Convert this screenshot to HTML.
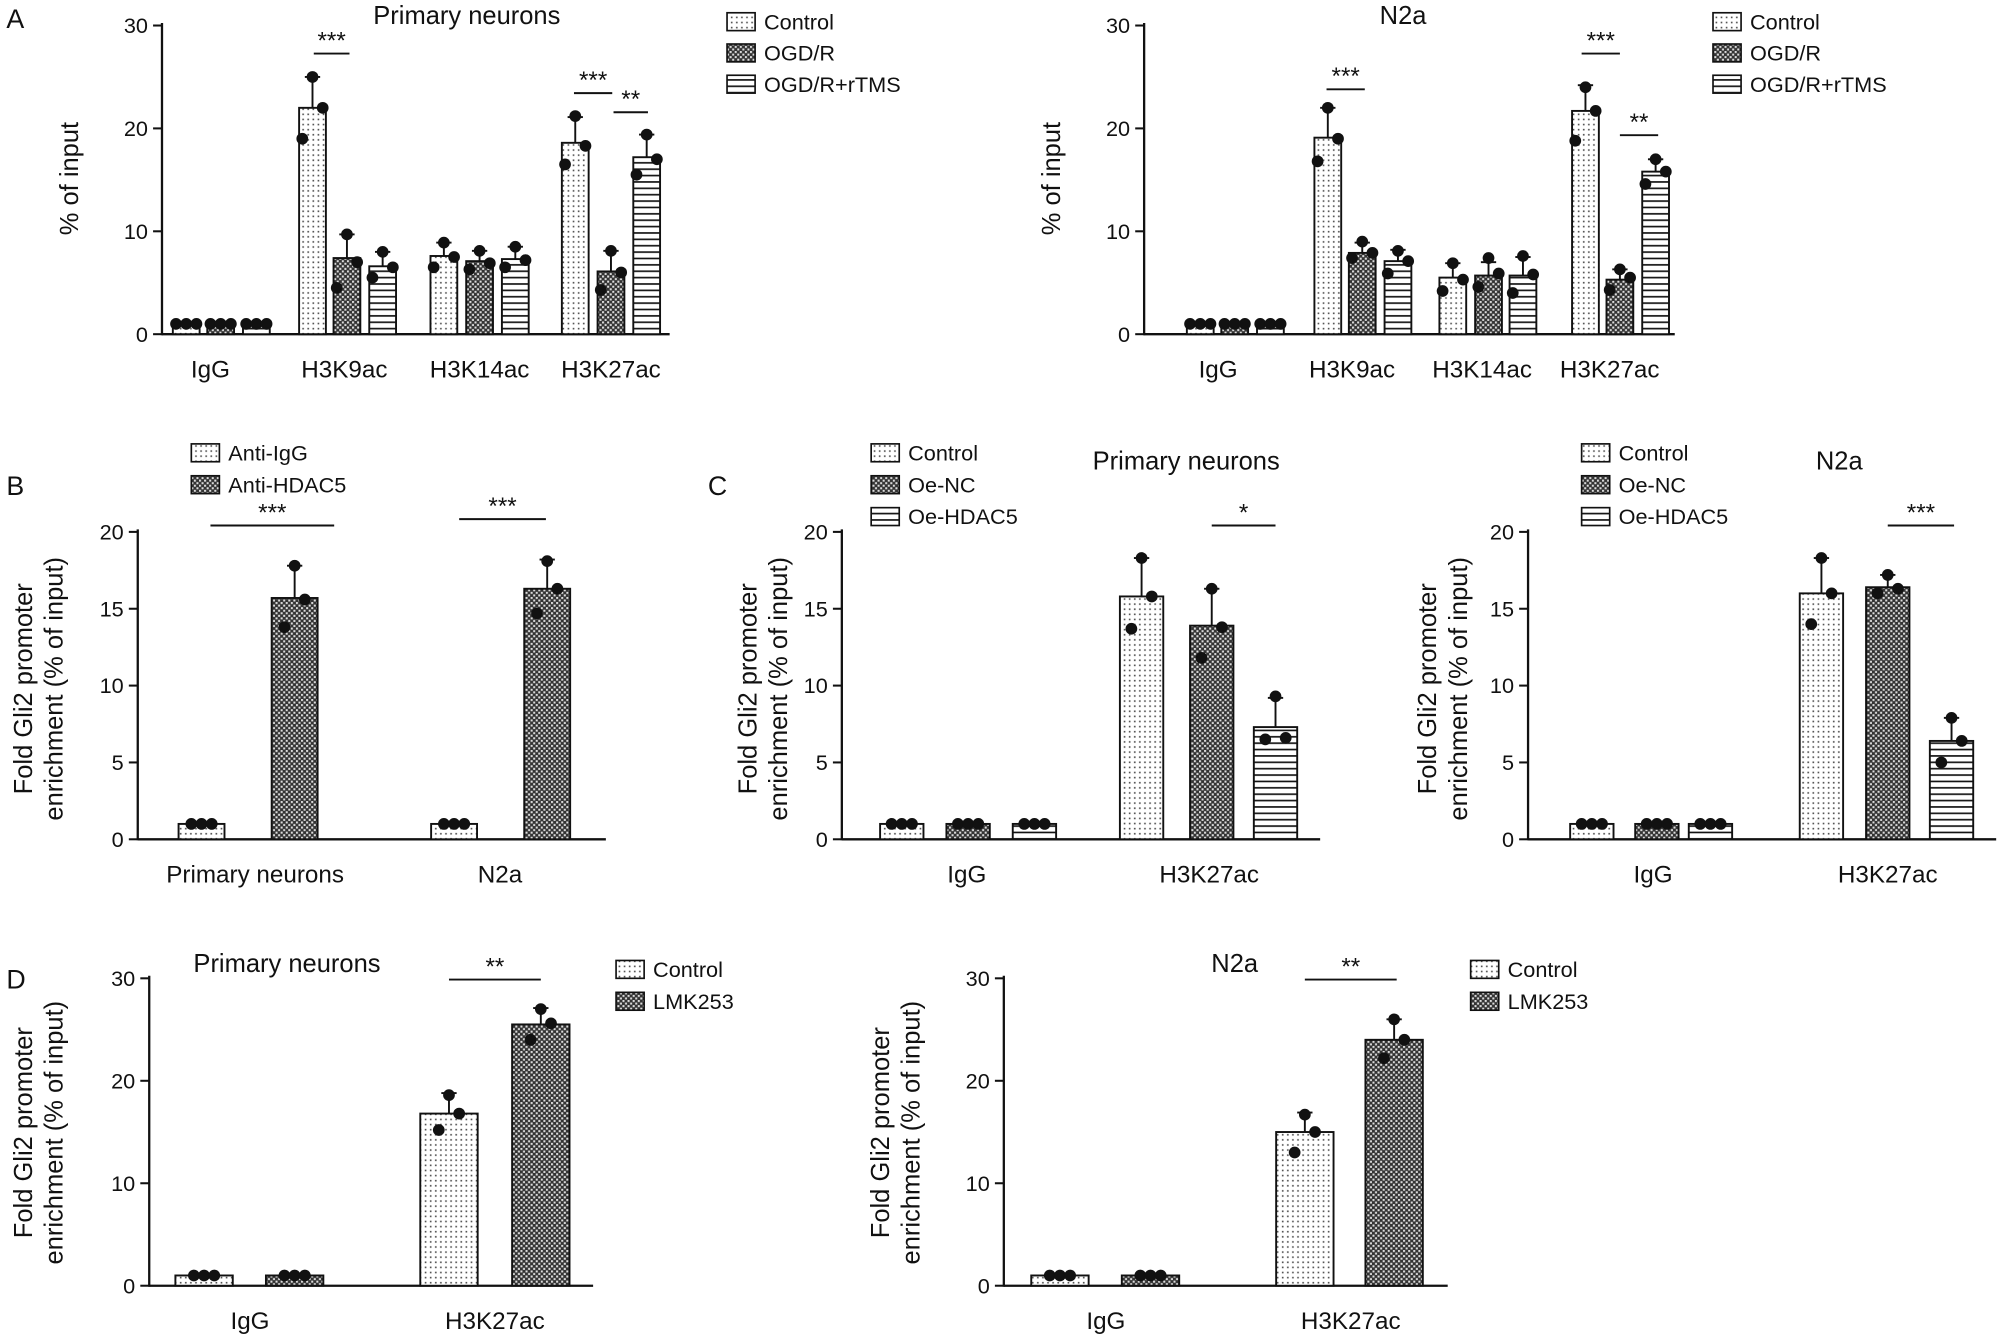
<!DOCTYPE html>
<html><head><meta charset="utf-8">
<style>
html,body{margin:0;padding:0;background:#fff;}
svg{display:block;font-family:"Liberation Sans",Arial,sans-serif;}
</style></head>
<body>
<svg id="s" width="2000" height="1337" viewBox="0 0 1568 1048.2" xmlns="http://www.w3.org/2000/svg">
<defs>
<pattern id="pd" width="4" height="4" patternUnits="userSpaceOnUse"><rect width="4" height="4" fill="#fff"/><rect x="1" y="1" width="1.3" height="1.3" fill="#555"/></pattern>
<pattern id="px" width="4" height="4" patternUnits="userSpaceOnUse"><rect width="4" height="4" fill="#333"/><rect x="0" y="0" width="1.6" height="1.6" fill="#ddd"/><rect x="2" y="2" width="1.6" height="1.6" fill="#ddd"/></pattern>
<pattern id="ph" width="6" height="5" patternUnits="userSpaceOnUse"><rect width="6" height="5" fill="#fff"/><rect y="2" width="6" height="1.3" fill="#111"/></pattern>
</defs>
<g id="g" stroke-linecap="butt"></g>
</svg>
<script>
const g=document.getElementById('g');let h='';
const F={c:'url(#pd)',o:'url(#px)',r:'url(#ph)'};
function t(x,y,s,sz,anc,rot){h+=`<text x="${x}" y="${y}" font-size="${sz||17}" text-anchor="${anc||'middle'}" fill="#111"${rot?` transform="rotate(-90 ${x} ${y})"`:''}>${s}</text>`;}
function L(x1,y1,x2,y2,w){h+=`<line x1="${x1}" y1="${y1}" x2="${x2}" y2="${y2}" stroke="#111" stroke-width="${w||1.6}"/>`;}
function panel(o){
 const sc=(o.y0-o.ytop)/o.ymax;
 const Y=v=>o.y0-v*sc;
 L(o.ax,o.ytop-2,o.ax,o.y0+0.8,1.8);L(o.ax,o.y0,o.xend,o.y0,1.8);
 for(const tk of o.ticks){L(o.ax-7,Y(tk),o.ax,Y(tk),1.6);t(o.ax-11,Y(tk)+6,tk,17,'end');}
 for(const [x,v,ty,err,dots] of o.bars){
  const w=o.bw;
  h+=`<rect x="${x-w/2}" y="${Y(v)}" width="${w}" height="${o.y0-Y(v)}" fill="${F[ty]}" stroke="#111" stroke-width="1.5"/>`;
  if(err>0.3){L(x,Y(v),x,Y(v+err),1.5);L(x-6,Y(v+err),x+6,Y(v+err),1.5);}
  const d=dots||[v-0.1*v,v+err*0.9,v];
  const off=[-8,8,0];
  d.forEach((dv,i)=>{const xx=o.small?x+[-10,0,10][i]:x+[-9,0,9][i];const yy=o.small?Y(v):Y(dv);h+=`<circle cx="${o.small?xx:(i==0?x-8:i==1?x:x+8)}" cy="${yy}" r="4.6" fill="#111"/>`;});
 }
 for(const [x,s] of o.xl) t(x,o.y0+34,s,19);
 for(const [x1,x2,y,s] of (o.sig||[])){L(x1,y,x2,y,1.5);t((x1+x2)/2,y-4,s,19);}
 if(o.title)t(o.title[0],o.title[1],o.title[2],20);
 o.yl.forEach(([x,s])=>t(x,o.ylc,s,20,'middle',true));
 o.leg.items.forEach(([ty,s],i)=>{const y=o.leg.y+i*o.leg.dy;h+=`<rect x="${o.leg.x}" y="${y-7}" width="22" height="14" fill="${F[ty]}" stroke="#111" stroke-width="1.3"/>`;t(o.leg.x+29,y+6,s,17,'start');});
}
function mk(x,v,ty,err,dots){return [x,v,ty,err,dots];}
// small group helper: dots at bar top
function sm(x,ty){return [x,1,ty,0,[1,1,1]];}
t(5,22,'A',21,'start');t(5,388,'B',21,'start');t(555,388,'C',21,'start');t(5,775,'D',21,'start');
const legA={x:570,y:17,dy:24.5,items:[['c','Control'],['o','OGD/R'],['r','OGD/R+rTMS']]};
panel({ax:127,y0:262,ytop:20,ymax:30,xend:525,ticks:[0,10,20,30],bw:21,
 bars:[sm(146,'c'),sm(173,'o'),sm(201,'r'),
 mk(245,22,'c',3,[19,25,22]),mk(272,7.4,'o',2.3,[4.5,9.7,7]),mk(300,6.6,'r',1.4,[5.5,8,6.5]),
 mk(348,7.6,'c',1.3,[6.5,8.9,7.5]),mk(376,7.1,'o',1,[6.3,8.1,6.9]),mk(404,7.3,'r',1.2,[6.5,8.5,7.2]),
 mk(451,18.6,'c',2.5,[16.5,21.2,18.3]),mk(479,6.1,'o',2,[4.3,8.1,6]),mk(507,17.2,'r',2.2,[15.5,19.4,17])],
 xl:[[165,'IgG'],[270,'H3K9ac'],[376,'H3K14ac'],[479,'H3K27ac']],
 sig:[[246,274,42,'***'],[450,480,73,'***'],[481,508,88,'**']],title:[366,19,'Primary neurons'],
 yl:[[61,'% of input']],ylc:140,leg:legA});
panel({ax:897,y0:262,ytop:20,ymax:30,xend:1313,ticks:[0,10,20,30],bw:21,
 bars:[sm(941,'c'),sm(968,'o'),sm(996,'r'),
 mk(1041,19.1,'c',2.9,[16.8,22,19]),mk(1068,7.9,'o',1,[7.4,9,7.9]),mk(1096,7.1,'r',1.1,[5.9,8.1,7.1]),
 mk(1139,5.5,'c',1.4,[4.2,6.9,5.3]),mk(1167,5.7,'o',1.3,[4.6,7.4,5.9]),mk(1194,5.7,'r',1.8,[4,7.6,5.8]),
 mk(1243,21.7,'c',2.5,[18.8,24,21.7]),mk(1270,5.3,'o',1,[4.3,6.3,5.5]),mk(1298,15.8,'r',1.2,[14.6,17,15.8])],
 xl:[[955,'IgG'],[1060,'H3K9ac'],[1162,'H3K14ac'],[1262,'H3K27ac']],
 sig:[[1040,1070,70,'***'],[1240,1270,42,'***'],[1270,1300,106,'**']],title:[1100,19,'N2a'],
 yl:[[831,'% of input']],ylc:140,leg:Object.assign({},legA,{x:1343})});
panel({ax:108,y0:658,ytop:417,ymax:20,xend:475,ticks:[0,5,10,15,20],bw:36,
 bars:[sm(158,'c'),mk(231,15.7,'o',2.1,[13.8,17.8,15.6]),sm(356,'c'),mk(429,16.3,'o',1.9,[14.7,18.1,16.3])],
 xl:[[200,'Primary neurons'],[392,'N2a']],sig:[[165,262,412,'***'],[360,428,407,'***']],
 yl:[[25,'Fold Gli2 promoter'],[49,'enrichment (% of input)']],ylc:540,
 leg:{x:150,y:355,dy:25,items:[['c','Anti-IgG'],['o','Anti-HDAC5']]}});
const legC={x:683,y:355,dy:25,items:[['c','Control'],['o','Oe-NC'],['r','Oe-HDAC5']]};
panel({ax:660,y0:658,ytop:417,ymax:20,xend:1035,ticks:[0,5,10,15,20],bw:34,
 bars:[sm(707,'c'),sm(759,'o'),sm(811,'r'),mk(895,15.8,'c',2.5,[13.7,18.3,15.8]),mk(950,13.9,'o',2.4,[11.8,16.3,13.8]),mk(1000,7.3,'r',1.9,[6.5,9.3,6.6])],
 xl:[[758,'IgG'],[948,'H3K27ac']],sig:[[950,1000,412,'*']],title:[930,368,'Primary neurons'],
 yl:[[593,'Fold Gli2 promoter'],[617,'enrichment (% of input)']],ylc:540,leg:legC});
panel({ax:1198,y0:658,ytop:417,ymax:20,xend:1565,ticks:[0,5,10,15,20],bw:34,
 bars:[sm(1248,'c'),sm(1299,'o'),sm(1341,'r'),mk(1428,16,'c',2.3,[14,18.3,16]),mk(1480,16.4,'o',0.8,[16,17.2,16.3]),mk(1530,6.4,'r',1.5,[5,7.9,6.4])],
 xl:[[1296,'IgG'],[1480,'H3K27ac']],sig:[[1480,1532,412,'***']],title:[1442,368,'N2a'],
 yl:[[1126,'Fold Gli2 promoter'],[1150,'enrichment (% of input)']],ylc:540,leg:Object.assign({},legC,{x:1240})});
panel({ax:117,y0:1008,ytop:767,ymax:30,xend:465,ticks:[0,10,20,30],bw:45,
 bars:[sm(160,'c'),sm(231,'o'),mk(352,16.8,'c',2,[15.2,18.6,16.8]),mk(424,25.5,'o',1.6,[24,27,25.6])],
 xl:[[196,'IgG'],[388,'H3K27ac']],sig:[[352,424,768,'**']],title:[225,762,'Primary neurons'],
 yl:[[25,'Fold Gli2 promoter'],[49,'enrichment (% of input)']],ylc:888,
 leg:{x:483,y:760,dy:25,items:[['c','Control'],['o','LMK253']]}});
panel({ax:787,y0:1008,ytop:767,ymax:30,xend:1135,ticks:[0,10,20,30],bw:45,
 bars:[sm(831,'c'),sm(902,'o'),mk(1023,15,'c',1.9,[13,16.7,15]),mk(1093,24,'o',2,[22.2,26,24])],
 xl:[[867,'IgG'],[1059,'H3K27ac']],sig:[[1023,1095,768,'**']],title:[968,762,'N2a'],
 yl:[[697,'Fold Gli2 promoter'],[721,'enrichment (% of input)']],ylc:888,
 leg:{x:1153,y:760,dy:25,items:[['c','Control'],['o','LMK253']]}});
g.innerHTML=h;
</script>
</body></html>
